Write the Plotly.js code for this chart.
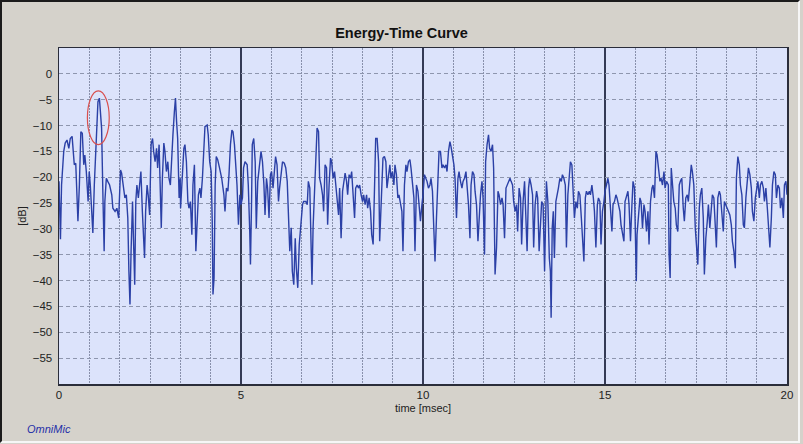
<!DOCTYPE html>
<html><head><meta charset="utf-8">
<script src="https://cdn.plot.ly/plotly-3.0.1.min.js"></script>
<style>
html,body{margin:0;padding:0;background:#d5d2cb;overflow:hidden}
#wrap{position:relative;width:803px;height:444px}
#chart{width:803px;height:444px}
#frame{position:absolute;left:0;top:0;width:800px;height:443px;box-sizing:border-box;border-top:2px solid #1b1b1b;border-left:2px solid #1b1b1b;border-right:2px solid #f6f6f6;border-bottom:2px solid #f6f6f6;pointer-events:none}
</style></head>
<body>
<div id="wrap"><div id="chart"></div><div id="frame"></div></div>
<script>
const xTicks = [0, 5, 10, 15, 20];
const yTicks = [0, -5, -10, -15, -20, -25, -30, -35, -40, -45, -50, -55];

const timeMs = [
0.00,0.04,0.07,0.13,0.17,0.22,0.27,0.31,0.36,0.39,0.42,0.46,0.49,0.52,0.56,0.60,0.64,0.68,0.71,0.75,0.80,0.83,0.86,0.90,0.93,0.97,1.01,1.04,1.07,1.11,1.15,1.17,1.21,1.24,1.26,1.30,1.34,1.39,1.45,1.48,1.54,1.59,1.64,1.69,1.72,1.76,1.81,1.85,1.89,1.92,1.95,1.98,2.02,2.05,2.08,2.11,2.14,2.18,2.22,2.25,2.29,2.33,2.35,2.38,2.42,2.45,2.49,2.53,2.57,2.60,2.64,2.68,2.71,2.75,2.78,2.81,2.84,2.88,2.91,2.95,2.99,3.02,3.06,3.10,3.13,3.17,3.20,3.23,3.26,3.30,3.33,
3.34,3.37,3.43,3.46,3.50,3.54,3.57,3.61,3.65,3.68,3.72,3.76,3.79,3.83,3.87,3.90,3.94,3.98,4.01,4.07,4.10,4.14,4.18,4.21,4.23,4.26,4.29,4.32,4.36,4.41,4.47,4.53,4.56,4.60,4.64,4.67,4.71,4.75,4.78,4.82,4.86,4.89,4.93,4.97,5.00,5.04,5.07,5.11,5.17,5.20,5.24,5.26,5.29,5.31,5.35,5.39,5.42,5.46,5.50,5.55,5.59,5.63,5.66,5.70,5.73,5.77,5.81,5.84,5.88,5.92,5.95,5.99,6.03,6.06,6.10,6.14,6.19,6.23,6.27,6.30,6.34,6.38,6.41,6.45,6.49,6.52,6.56,6.60,
6.65,6.69,6.72,6.78,6.82,6.85,6.89,6.93,6.95,6.98,7.02,7.05,7.09,7.13,7.16,7.20,7.24,7.27,7.31,7.35,7.38,7.42,7.46,7.49,7.53,7.57,7.60,7.64,7.68,7.71,7.75,7.79,7.82,7.86,7.90,7.93,7.97,8.01,8.04,8.08,8.12,8.15,8.19,8.23,8.26,8.30,8.34,8.37,8.41,8.45,8.48,8.52,8.56,8.59,8.63,8.67,8.70,8.74,8.78,8.81,8.83,8.87,8.90,8.94,8.98,9.01,9.05,9.09,9.12,9.16,9.20,9.23,9.27,9.31,9.34,9.38,9.42,9.45,9.49,9.53,9.56,9.60,9.64,9.67,9.71,9.75,9.78,9.82,9.86,9.89,9.93,9.97,10.00,
10.04,10.08,10.11,10.15,10.19,10.22,10.26,10.30,10.33,10.37,10.41,10.44,10.48,10.52,10.55,10.59,10.63,10.66,10.70,10.74,10.77,10.81,10.85,10.88,10.92,10.96,10.99,11.03,11.07,11.10,11.14,11.18,11.21,11.25,11.29,11.32,11.36,11.40,11.43,11.47,11.51,11.54,11.58,11.62,11.65,11.69,11.72,11.76,11.80,11.83,11.87,11.91,11.94,11.98,12.02,12.06,12.09,12.13,12.17,12.20,12.24,12.28,12.31,12.35,12.39,12.42,12.46,12.49,12.53,12.57,12.60,12.64,12.68,12.71,12.75,12.79,12.82,12.86,12.90,12.93,12.97,13.01,13.04,13.08,13.12,13.15,13.19,13.23,13.26,13.30,13.34,
13.39,13.43,13.47,13.50,13.52,13.55,13.58,13.61,13.65,13.69,13.72,13.76,13.80,13.83,13.87,13.91,13.94,13.98,14.02,14.05,14.09,14.13,14.16,14.20,14.24,14.27,14.31,14.35,14.38,14.42,14.46,14.49,14.53,14.57,14.60,14.64,14.68,14.71,14.75,14.79,14.82,14.86,14.89,14.93,14.97,15.00,15.04,15.08,15.11,15.15,15.19,15.22,15.26,15.30,15.33,15.37,15.41,15.44,15.48,15.52,15.55,15.59,15.63,15.66,15.70,15.74,15.77,15.81,15.83,15.86,15.88,15.92,15.96,15.99,16.03,16.07,16.10,16.14,16.18,16.21,16.25,16.29,16.32,16.36,16.40,16.43,16.47,16.51,16.54,16.58,16.62,16.65,16.69,
16.74,16.76,16.79,16.82,16.86,16.89,16.93,16.96,17.00,17.04,17.07,17.11,17.15,17.18,17.22,17.26,17.29,17.33,17.37,17.40,17.44,17.48,17.51,17.55,17.59,17.62,17.66,17.70,17.73,17.77,17.81,17.84,17.88,17.92,17.95,17.99,18.03,18.06,18.10,18.14,18.17,18.21,18.25,18.28,18.32,18.36,18.39,18.43,18.47,18.50,18.54,18.58,18.61,18.65,18.69,18.72,18.76,18.80,18.83,18.87,18.91,18.94,18.98,19.02,19.05,19.09,19.13,19.16,19.20,19.24,19.27,19.31,19.35,19.38,19.42,19.46,19.49,19.53,19.57,19.60,19.64,19.68,19.71,19.75,19.79,19.82,19.86,19.90,19.93,19.97,20.00
];

const levelDb = [
-20.8,-32,-21.5,-15,-13.4,-12.8,-14.4,-12.5,-12.1,-15,-17.6,-17.3,-23.4,-28.5,-21.5,-11.2,-11.5,-17.6,-15.7,-18.9,-24.7,-18.9,-21.5,-26.6,-30.8,-21.5,-14.4,-9.9,-5.4,-4.7,-8,-10.5,-24.7,-34.3,-24.7,-20.2,-20.8,-21.5,-23.4,-26,-26.6,-26,-27.9,-18.6,-19.2,-21.5,-24,-23.4,-27.9,-38.2,-44.6,-34.3,-24.7,-33,-40.8,-24.7,-21.5,-24,-21.5,-18.9,-26.6,-31.1,-35.6,-26.6,-21.5,-23.4,-27.3,-13.7,-12.5,-15,-17,-14.4,-18.2,-13.7,-21.5,-29.8,-20.2,-13.4,-15,-18.9,-17,-20.2,-21.5,-15,-11.8,-7.3,-4.7,-9.2,-12.5,-24,-20.2,
-26,-21.5,-14.4,-13.7,-17,-24.7,-26,-24.7,-31.1,-21.5,-17.6,-34.3,-29.2,-23.4,-22.1,-24,-20.2,-15,-10.2,-9.9,-11.8,-17,-18.9,-28.5,-42.7,-39.5,-21.5,-16,-16.6,-18.2,-20.2,-23.4,-26.6,-22.1,-22.7,-19.5,-13.7,-10.9,-11.2,-13.7,-18.2,-21.5,-29.2,-23.4,-25.3,-24,-18.2,-17,-17.6,-21.5,-30.5,-36.9,-24.7,-13.7,-12.5,-17,-29.8,-20.8,-18.2,-15,-17,-21.5,-27.3,-20.2,-22.1,-27.9,-19.5,-18.9,-22.1,-18.2,-16,-17.6,-24.7,-22.1,-18.9,-17,-17.3,-18.2,-20.8,-27.9,-34.3,-29.8,-38.2,-40.8,-31.8,-37.6,-41.4,-33,
-27.9,-25.3,-24.7,-24.7,-25.3,-20.8,-22.1,-35,-40.8,-29.8,-21.5,-17.6,-10.5,-11.2,-20.2,-21.5,-23.4,-26.6,-17.6,-18.2,-29.2,-21.5,-16.3,-17,-20.2,-18.9,-21.5,-23.4,-27.3,-22.1,-31.8,-22.7,-20.8,-19.2,-20.8,-23.4,-19.5,-20.2,-18.9,-23.4,-27.9,-22.1,-21.5,-22.1,-21.5,-23.4,-24.7,-23.4,-25.3,-23.4,-26,-24,-26.6,-31.1,-33,-21.5,-12.5,-12.5,-17,-32.4,-28.5,-23.4,-16.3,-16,-17,-22.1,-19.5,-17.6,-20.2,-18.9,-21.5,-17.6,-19.5,-24,-23.4,-25.3,-26.6,-34.3,-21.5,-17.6,-18.9,-17,-16.6,-18.2,-21.5,-24,-34.3,-21.5,-22.7,-24.7,-28.5,-25.3,-23.4,
-19.5,-20.2,-20.8,-22.1,-21.5,-20.2,-22.7,-30.5,-36.3,-27.9,-21.5,-15,-15,-18.2,-17.6,-18.2,-17.6,-18.9,-15,-13.1,-14.1,-15.7,-17.6,-20.2,-27.9,-20.2,-18.9,-20.8,-22.1,-20.8,-20.2,-18.9,-21.5,-25.3,-31.8,-21.5,-18.9,-19.5,-22.7,-25.3,-32.4,-27.3,-23.4,-20.8,-24,-35,-17,-13.7,-11.8,-14.4,-15,-13.7,-18.2,-38.8,-33.6,-22.7,-23.4,-25.3,-24,-25.3,-31.8,-22.1,-21.5,-20.8,-20.2,-20.8,-21.5,-24.7,-26.6,-25.3,-30.5,-22.1,-24,-33,-24.7,-20.8,-26,-34.3,-22.1,-20.2,-21.5,-23.4,-33.6,-25.3,-22.7,-24,-34.3,-27.3,-24.7,-25.3,-38.2,
-20.8,-24.7,-35.6,-38.2,-47.2,-29.8,-26.6,-35.6,-24.7,-23.4,-22.1,-20.2,-20.8,-19.5,-20.2,-21.5,-33.6,-23.4,-18.9,-17,-17.6,-25.3,-27.9,-24.7,-26,-22.7,-23.4,-27.9,-31.1,-36.3,-24,-22.7,-23.4,-22.7,-23.4,-21.5,-24,-26.6,-33.6,-25.3,-24,-24.7,-33,-26.6,-24.7,-22.7,-21.5,-20.2,-21.5,-26,-30.5,-25.3,-24.7,-23.4,-24,-25.3,-26.6,-29.2,-30.5,-32.4,-24.7,-23.4,-22.7,-25.3,-32.4,-25.3,-20.8,-22.1,-29.2,-40.1,-31.1,-26.6,-24,-24.7,-29.8,-25.3,-26.6,-30.5,-26.6,-33,-24.7,-22.1,-21.5,-24,-15,-15.7,-18.9,-20.8,-20.2,-21.5,-18.9,-22.1,-20.8,
-21.5,-35,-39.5,-18.2,-21.5,-24.7,-26,-29.2,-30.5,-21.5,-20.8,-20.2,-26,-28.5,-24,-23.4,-24.7,-21.5,-17.6,-18.9,-21.5,-29.8,-33,-36.9,-26,-23.4,-22.1,-27.9,-38.8,-31.8,-28.5,-25.3,-29.8,-24.7,-23.4,-24,-29.2,-33.6,-24,-22.7,-23.4,-27.9,-30.5,-24.7,-25.3,-26,-26.6,-27.3,-29.2,-32.4,-34.3,-37.6,-20.2,-16,-17.6,-21.5,-23.4,-29.2,-29.8,-24,-20.2,-18.2,-19.5,-22.1,-26.6,-28.5,-24,-22.1,-20.8,-24,-21.5,-20.8,-22.1,-24.7,-22.1,-26,-29.2,-33.6,-27.9,-21.5,-18.9,-19.5,-24,-21.5,-22.1,-26,-24,-27.9,-21.5,-20.8,-23.4
];

const font = 'Liberation Sans, Arial, sans-serif';

const trace = {
  x: timeMs, y: levelDb, type: 'scatter', mode: 'lines',
  line: {color: '#2b40a6', width: 1.4}, hoverinfo: 'skip'
};

const layout = {
  width: 803, height: 444,
  paper_bgcolor: '#d5d2cb', plot_bgcolor: '#dce3fb',
  margin: {l: 59, r: 16, t: 48, b: 60},
  showlegend: false,
  title: {text: 'Energy-Time Curve', font: {family: font, size: 14.5, color: '#111', weight: 'bold'},
    x: 0.5, xref: 'container', xanchor: 'center', y: 1 - 33/444, yref: 'container', yanchor: 'middle'},
  xaxis: {
    range: [0, 20], tickmode: 'linear', tick0: xTicks[0], dtick: xTicks[1] - xTicks[0],
    showgrid: true, gridcolor: '#343a55', gridwidth: 1.2,
    minor: {tick0: 0, dtick: 5/6, showgrid: true, gridcolor: '#8890ab', griddash: '2px,1px', gridwidth: 1},
    showline: true, mirror: true, linecolor: '#2a2d3a', linewidth: 1.5, zeroline: false,
    ticks: '', tickfont: {family: font, size: 11.5, color: '#222'},
    title: {text: 'time [msec]', font: {family: font, size: 11, color: '#222'}, standoff: 4}
  },
  yaxis: {
    range: [-60, 5], tickmode: 'array', tickvals: yTicks,
    showgrid: true, gridcolor: '#8e96ae', griddash: '4px,3px', gridwidth: 1,
    showline: true, mirror: true, linecolor: '#2a2d3a', linewidth: 1.5, zeroline: false,
    ticks: 'outside', ticklen: 3, tickcolor: 'rgba(0,0,0,0)',
    tickfont: {family: font, size: 11.5, color: '#222'},
    title: {text: '[dB]', font: {family: font, size: 11, color: '#222'}, standoff: 4}
  },
  shapes: [
    {type: 'circle', xref: 'x', yref: 'y', x0: 0.78, x1: 1.38, y0: -13.7, y1: -3.3,
     line: {color: '#d9504f', width: 1.2}}
  ],
  annotations: [
    {text: '<i>OmniMic</i>', xref: 'paper', yref: 'paper', x: (25 - 59) / 728, y: (384 - 429) / 336,
     xanchor: 'left', yanchor: 'middle', showarrow: false, font: {family: font, size: 11, color: '#2530a8'}}
  ]
};

Plotly.newPlot('chart', [trace], layout, {displayModeBar: false, staticPlot: true});
</script>
</body></html>
